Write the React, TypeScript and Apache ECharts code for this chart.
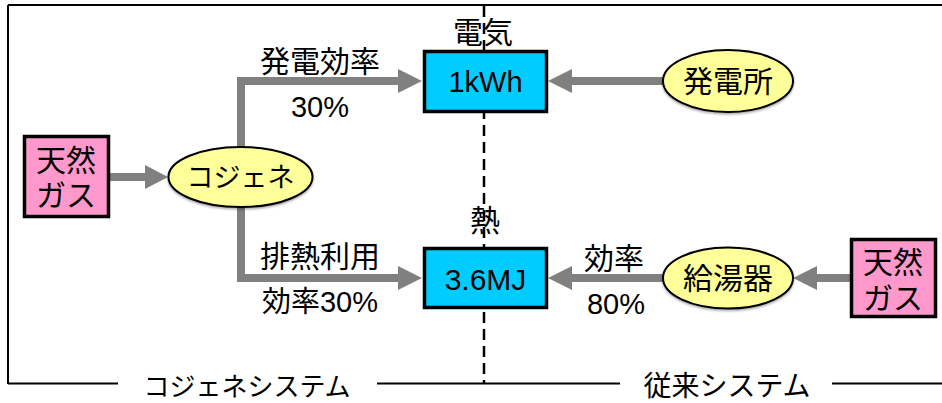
import React, { useEffect, useRef } from "react";
import * as echarts from "echarts";

// ---- data ----
const sourceLabel = ["天然", "ガス"];
const cogenNode = "コジェネ";
const conventionalNodes = ["発電所", "給湯器"];
const outputLabels = ["電気", "熱"];
const outputValues = ["1kWh", "3.6MJ"];
const cogenRouteLabels = ["発電効率", "排熱利用"];
const cogenEfficiency = [30, 30]; // %
const conventionalRouteLabels = ["効率"];
const conventionalEfficiency = [80]; // %
const systemLabels = ["コジェネシステム", "従来システム"];

const FONT = "'Liberation Sans', 'Noto Sans CJK JP', sans-serif";
const GRAY = "#808080";

function txt(text: string, x: number, y: number, size: number, extra: any = {}) {
  return {
    type: "text",
    x,
    y,
    z: 10,
    style: {
      text,
      font: `${size}px ${FONT}`,
      fill: "#000",
      align: "center",
      verticalAlign: "middle",
      textAlign: "center",
      textVerticalAlign: "middle",
      ...extra,
    },
  };
}

function arrowHead(baseX: number, tipX: number, y: number, half = 12) {
  return {
    type: "polygon",
    z: 3,
    shape: { points: [[baseX, y - half], [tipX, y], [baseX, y + half]] },
    style: { fill: GRAY, stroke: null },
  };
}

function conn(points: number[][]) {
  return {
    type: "polyline",
    z: 2,
    shape: { points },
    style: { stroke: GRAY, lineWidth: 8, fill: null, lineJoin: "miter", lineCap: "butt" },
  };
}

function box(x: number, y: number, w: number, h: number, fill: string) {
  return {
    type: "rect",
    z: 5,
    shape: { x, y, width: w, height: h },
    style: { fill, stroke: "#000", lineWidth: 3.5 },
  };
}

function ell(cx: number, cy: number, rx: number, ry: number) {
  return {
    type: "ellipse",
    z: 5,
    shape: { cx, cy, rx, ry },
    style: {
      fill: "#FFFF99",
      stroke: "#000",
      lineWidth: 2,
      shadowBlur: 2,
      shadowOffsetY: 1.5,
      shadowColor: "rgba(0,0,0,0.35)",
    },
  };
}

function line(x1: number, y1: number, x2: number, y2: number, extra: any = {}) {
  return {
    type: "line",
    z: 1,
    shape: { x1, y1, x2, y2 },
    style: { stroke: "#000", lineWidth: 2, ...extra },
  };
}

export default function App() {
  const ref = useRef<HTMLDivElement>(null);
  useEffect(() => {
    if (!ref.current) return;
    const chart = echarts.init(ref.current, null, { renderer: "svg" });

    const elements: any[] = [
      // frame
      line(8, 5, 942, 5),
      line(8, 5, 8, 384),
      line(8, 383.5, 118, 383.5),
      line(377, 383.5, 620, 383.5),
      line(832, 383.5, 942, 383.5),
      // dashed divider
      line(484, 6, 484, 383, { lineWidth: 2.5, lineDash: [11, 6] }),

      // connectors cogen
      conn([[110, 177], [146, 177]]),
      arrowHead(145, 168, 177),
      conn([[241, 147], [241, 81], [399, 81]]),
      arrowHead(398, 422, 81),
      conn([[241, 207], [241, 278], [399, 278]]),
      arrowHead(398, 422, 278),
      // connectors conventional
      conn([[664, 81], [571, 81]]),
      arrowHead(572, 548, 81),
      conn([[664, 278], [571, 278]]),
      arrowHead(572, 548, 278),
      conn([[851, 278], [816, 278]]),
      arrowHead(817, 793, 278),

      // boxes
      box(24.5, 136.5, 84, 80, "#FF99CC"),
      box(851.5, 239.5, 84, 77, "#FF99CC"),
      box(424.5, 51.5, 122, 60, "#00CCFF"),
      box(424.5, 248.5, 122, 59, "#00CCFF"),
      // ellipses
      ell(240.5, 177, 72, 30),
      ell(728, 81, 65, 31),
      ell(728, 278, 65, 30.5),

      // texts in shapes
      txt(sourceLabel.join("\n"), 66, 178, 30, { lineHeight: 35 }),
      txt(sourceLabel.join("\n"), 893, 280, 30, { lineHeight: 36 }),
      txt(cogenNode, 240.5, 178, 27),
      txt(conventionalNodes[0], 728, 81, 30),
      txt(conventionalNodes[1], 728, 278, 30),
      txt(outputValues[0], 485.5, 82, 29),
      txt(outputValues[1], 485.5, 279, 30),
      // output labels
      txt(outputLabels[0], 483, 32, 30),
      txt(outputLabels[1], 485, 220, 30),
      // route labels
      txt(cogenRouteLabels[0], 320, 61, 30),
      txt(`${cogenEfficiency[0]}%`, 320, 107, 29),
      txt(cogenRouteLabels[1], 320, 256, 30),
      txt(`効率${cogenEfficiency[1]}%`, 320, 302, 29),
      txt(conventionalRouteLabels[0], 614, 258, 30),
      txt(`${conventionalEfficiency[0]}%`, 616, 304, 29),
      // system labels
      txt(systemLabels[0], 247, 387, 26),
      txt(systemLabels[1], 727, 386, 28),
    ];

    chart.setOption({
      animation: false,
      graphic: { elements },
    });
    return () => chart.dispose();
  }, []);

  return (
    <div
      ref={ref}
      style={{ position: "fixed", left: 0, top: 0, width: 942, height: 403, background: "#fff" }}
    />
  );
}
